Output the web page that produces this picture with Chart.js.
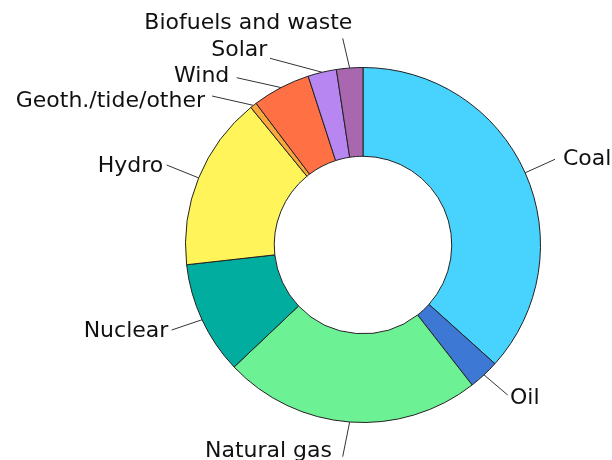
<!DOCTYPE html>
<html>
<head>
<meta charset="utf-8">
<script src="https://cdn.jsdelivr.net/npm/chart.js@4"></script>
<style>
  body { margin: 0; background: #fff; }
</style>
</head>
<body>
<canvas id="chart" width="612" height="460"></canvas>
<script>
const labels = ["Coal", "Oil", "Natural gas", "Nuclear", "Hydro", "Geoth./tide/other", "Wind", "Solar", "Biofuels and waste"];
const shares = [36.7, 2.8, 23.5, 10.3, 15.9, 0.6, 5.3, 2.6, 2.4];
const colors = ["#48d3ff", "#3d78d5", "#6cf294", "#00ad9f", "#fff45a", "#f7a73b", "#ff7145", "#b786f0", "#a967b0"];

// where each label's leader line ends and its text sits, relative to the chart centre
const labelLayout = [
  { line: [192, -85.7], text: [200, -80.5], align: "left" },
  { line: [144.7, 150], text: [147, 159], align: "left" },
  { line: [-20.3, 211.7], text: [-31, 211.5], align: "right" },
  { line: [-191.3, 85], text: [-194.7, 92], align: "right" },
  { line: [-196.3, -80], text: [-199.7, -73.3], align: "right" },
  { line: [-151, -149], text: [-158, -138], align: "right" },
  { line: [-126.3, -167.3], text: [-133.7, -163.5], align: "right" },
  { line: [-93, -186.7], text: [-95.7, -189.5], align: "right" },
  { line: [-20.3, -206.7], text: [-10.7, -215.7], align: "right" }
];

const outsideLabels = {
  id: "outsideLabels",
  afterDraw(chart) {
    const ctx = chart.ctx;
    const arcs = chart.getDatasetMeta(0).data;
    ctx.save();
    ctx.font = "22px 'DejaVu Sans'";
    ctx.fillStyle = "#111";
    ctx.strokeStyle = "#333";
    ctx.lineWidth = 1;
    ctx.textBaseline = "alphabetic";
    arcs.forEach((arc, i) => {
      const p = arc.getProps(["x", "y", "startAngle", "endAngle", "outerRadius"], true);
      const mid = (p.startAngle + p.endAngle) / 2;
      const sx = p.x + Math.cos(mid) * p.outerRadius;
      const sy = p.y + Math.sin(mid) * p.outerRadius;
      const lay = labelLayout[i];
      ctx.beginPath();
      ctx.moveTo(sx, sy);
      ctx.lineTo(p.x + lay.line[0], p.y + lay.line[1]);
      ctx.stroke();
      ctx.textAlign = lay.align;
      ctx.fillText(labels[i], p.x + lay.text[0], p.y + lay.text[1]);
    });
    ctx.restore();
  }
};

new Chart(document.getElementById("chart"), {
  type: "doughnut",
  data: {
    labels: labels,
    datasets: [{
      data: shares,
      backgroundColor: colors,
      borderColor: "#222",
      borderWidth: 1
    }]
  },
  options: {
    responsive: false,
    animation: false,
    cutout: "50%",
    layout: { padding: { top: 67, bottom: 37, left: 185, right: 71 } },
    plugins: {
      legend: { display: false },
      tooltip: { enabled: false }
    }
  },
  plugins: [outsideLabels]
});
</script>
</body>
</html>
